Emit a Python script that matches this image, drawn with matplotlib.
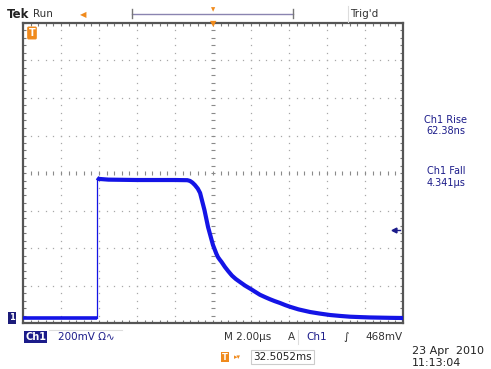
#!/usr/bin/env python3
# Oscilloscope screenshot: Ch1 pulse, rise / fall measurement

import numpy as np
import matplotlib.pyplot as plt

# trace data (time in us, level in mV)
low_t = [-10.0, -6.10]
low_mv = [0, 0]
pulse_t = [-6.10, -6.02, -5.5, -4.0, -2.0, -1.35, -1.21, -1.08, -0.95, -0.8,
           -0.68, -0.45, -0.26, 0.0, 0.18, 0.26, 0.35, 0.45, 0.63, 0.8,
           1.0, 1.2, 1.42, 1.7, 2.0, 2.2, 2.47, 2.75, 3.0, 3.25, 3.53, 3.8,
           4.05, 4.5, 5.11, 5.6, 6.16, 6.7, 7.21, 7.7, 8.26, 9.3, 10.0]
pulse_mv = [748, 742, 738, 736, 736, 735, 731, 722, 709, 690,
            667, 576, 485, 389, 342, 325, 312, 299, 272, 250,
            226, 208, 192, 172, 154, 141, 124, 111, 100, 90, 80, 69,
            60, 46, 32, 24, 16, 11, 7, 5, 3, 1, 0]

time_per_div = 2.0      # us
volts_per_div = 200.0   # mV
trig_level = 468        # mV
ground_off = -0.133     # divisions below ground to bottom edge

W, H = 491, 369
BLUE = "#1414e6"
DARK = "#1c1c8a"
ORANGE = "#f08a1c"


def px(x, y):
    return x / W, 1 - y / H


def main():
    fig = plt.figure(figsize=(W / 100, H / 100), dpi=100)
    fig.patch.set_facecolor("white")
    ax = fig.add_axes([23 / W, (H - 323) / H, 380 / W, 300 / H])

    y0 = ground_off * volts_per_div
    ax.set_xlim(-5 * time_per_div, 5 * time_per_div)
    ax.set_ylim(y0, y0 + 8 * volts_per_div)
    ax.set_xticks([])
    ax.set_yticks([])
    for s in ax.spines.values():
        s.set_color("#555555")
        s.set_linewidth(1.6)

    # graticule dots
    xs = np.arange(-10, 10.001, time_per_div / 5)
    ys = y0 + np.arange(0, 8.001, 0.2) * volts_per_div
    for k in range(1, 10):
        gx = -10 + k * time_per_div
        if k == 5:
            continue
        ax.plot(np.full(len(ys), gx), ys, ls="none", marker="s", ms=0.9,
                color="#a8a8a8", mec="none")
    for k in range(1, 8):
        gy = y0 + k * volts_per_div
        if k == 4:
            continue
        ax.plot(xs, np.full(len(xs), gy), ls="none", marker="s", ms=0.9,
                color="#a8a8a8", mec="none")
    # center lines with tick marks
    cy = y0 + 4 * volts_per_div
    ax.plot(xs, np.full(len(xs), cy), ls="none", marker="|", ms=3.5,
            mew=0.8, color="#8a8a8a")
    ax.plot(np.full(len(ys), 0), ys, ls="none", marker="_", ms=3.5,
            mew=0.8, color="#8a8a8a")
    # border ticks
    ax.plot(xs, np.full(len(xs), y0), ls="none", marker="|", ms=4, mew=0.8, color="#777777")
    ax.plot(xs, np.full(len(xs), y0 + 8 * volts_per_div), ls="none", marker="|", ms=4,
            mew=0.8, color="#777777")
    ax.plot(np.full(len(ys), -10), ys, ls="none", marker="_", ms=4, mew=0.8, color="#777777")
    ax.plot(np.full(len(ys), 10), ys, ls="none", marker="_", ms=4, mew=0.8, color="#777777")

    # trace
    ax.plot(low_t, low_mv, color=BLUE, lw=2.6, solid_capstyle="butt", zorder=5)
    ax.plot([pulse_t[0], pulse_t[0]], [low_mv[-1], pulse_mv[0]], color=BLUE, lw=0.9, zorder=5)
    ax.plot(pulse_t, pulse_mv, color=BLUE, lw=3.0, solid_capstyle="butt",
            solid_joinstyle="round", zorder=5)

    # trigger level arrow on right edge
    ax.plot(9.55, trig_level, marker="<", ms=3.5, color=DARK, clip_on=False, zorder=6)
    ax.plot([9.55, 9.85], [trig_level, trig_level], color=DARK, lw=1.0, zorder=6)

    # orange trigger-position marker on top edge
    fig.text(*px(213, 24), "\u25bc", color=ORANGE, fontsize=6, ha="center", va="center")
    # orange marker top-left inside
    fig.text(*px(32, 33), "T", color="white", fontsize=7, ha="center", va="center",
             fontweight="bold",
             bbox=dict(boxstyle="round,pad=0.15", fc=ORANGE, ec="none"))
    # ground marker
    fig.text(*px(12, 318), "1", color="white", fontsize=6, ha="center", va="center",
             fontweight="bold",
             bbox=dict(boxstyle="square,pad=0.15", fc="#1c1c7a", ec="none"))

    # top header
    fig.text(*px(7, 14), "Tek", fontsize=8.5, fontweight="bold", color="#222222", va="center")
    fig.text(*px(33, 14), "Run", fontsize=7.5, color="#333333", va="center")
    fig.text(*px(83, 15), "\u25c0", fontsize=6, color=ORANGE, ha="center", va="center")
    fig.add_artist(plt.Line2D([132 / W, 293 / W], [1 - 14 / H, 1 - 14 / H], color="#8a84b0", lw=1.0))
    for bx in (132, 293):
        fig.add_artist(plt.Line2D([bx / W, bx / W], [1 - 9 / H, 1 - 18 / H], color="#777777", lw=1.0))
    fig.text(*px(213, 10), "\u25bc", fontsize=4, color=ORANGE, ha="center", va="center")
    fig.text(*px(350, 14), "Trig'd", fontsize=7.5, color="#333333", va="center")
    fig.add_artist(plt.Line2D([348 / W, 348 / W], [1 - 6 / H, 1 - 22 / H], color="#dddddd", lw=0.8))

    # measurement readouts
    fig.text(*px(446, 120), "Ch1 Rise", fontsize=7, color=DARK, ha="center", va="center")
    fig.text(*px(446, 131), "62.38ns", fontsize=7, color=DARK, ha="center", va="center")
    fig.text(*px(446, 171), "Ch1 Fall", fontsize=7, color=DARK, ha="center", va="center")
    fig.text(*px(446, 183), "4.341\u00b5s", fontsize=7, color=DARK, ha="center", va="center")

    # bottom status bar
    fig.text(*px(25, 337), "Ch1", fontsize=7, fontweight="bold", color="white", va="center",
             bbox=dict(boxstyle="square,pad=0.12", fc="#1c1c8a", ec="none"))
    fig.text(*px(58, 337), "200mV \u03a9\u223f", fontsize=7.5, color=DARK, va="center")
    fig.add_artist(plt.Line2D([49 / W, 122 / W], [1 - 330 / H, 1 - 330 / H], color="#dddddd", lw=0.8))
    fig.text(*px(224, 337), "M 2.00\u00b5s", fontsize=7.5, color="#333333", va="center")
    fig.text(*px(288, 337), "A", fontsize=7.5, color="#333333", va="center")
    fig.add_artist(plt.Line2D([298 / W, 298 / W], [1 - 330 / H, 1 - 344 / H], color="#dddddd", lw=0.8))
    fig.text(*px(306, 337), "Ch1", fontsize=7.5, color=DARK, va="center")
    fig.text(*px(343, 337), "\u222b", fontsize=7.5, color="#222222", va="center")
    fig.text(*px(403, 337), f"{trig_level}mV", fontsize=7.5, color="#333333", va="center", ha="right")

    fig.text(*px(222, 357), "T", fontsize=6, fontweight="bold", color="white", va="center",
             bbox=dict(boxstyle="square,pad=0.1", fc=ORANGE, ec="none"))
    fig.text(*px(234, 357), "\u25b8\u25be", fontsize=5, color=ORANGE, va="center")
    fig.text(*px(253, 357), "32.5052ms", fontsize=7.5, color="#222222", va="center",
             bbox=dict(boxstyle="square,pad=0.2", fc="white", ec="#cccccc", lw=0.8))
    fig.text(*px(412, 351), "23 Apr  2010", fontsize=8, color="#222222", va="center")
    fig.text(*px(412, 363), "11:13:04", fontsize=8, color="#222222", va="center")

    fig.savefig("out.png", dpi=100)


if __name__ == "__main__":
    main()
